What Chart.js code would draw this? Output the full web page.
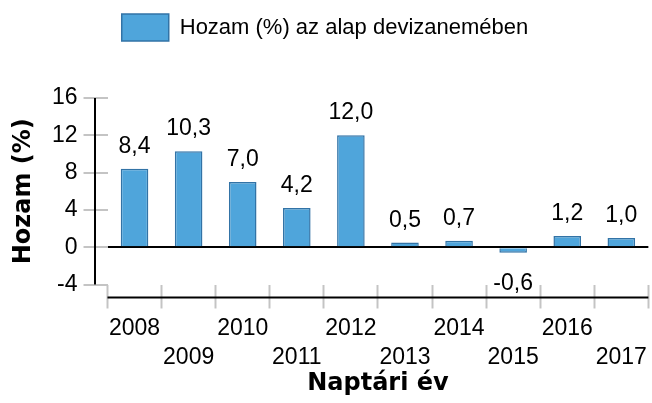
<!DOCTYPE html>
<html>
<head>
<meta charset="utf-8">
<script src="https://cdn.jsdelivr.net/npm/chart.js@4"></script>
<style>
  html, body { margin: 0; padding: 0; background: #fff; }
  #wrap { width: 652px; height: 403px; }
</style>
</head>
<body>
<div id="wrap"><canvas id="chart" width="652" height="403"></canvas></div>
<script>
// chart data
const years = ['2008', '2009', '2010', '2011', '2012', '2013', '2014', '2015', '2016', '2017'];
const returns = [8.4, 10.3, 7.0, 4.2, 12.0, 0.5, 0.7, -0.6, 1.2, 1.0];
const yTicks = [-4, 0, 4, 8, 12, 16];
const seriesLabel = 'Hozam (%) az alap devizanemében';
const yTitle = 'Hozam (%)';
const xTitle = 'Naptári év';

const FONT = '"Liberation Sans", Arial, sans-serif';
const BOLD = '"DejaVu Sans", sans-serif';
const BAR_FILL = '#4fa5db';
const BAR_EDGE = '#3273a6';
const TICK_GREY = '#c4c4c4';
const AXIS_GAP = 13;

const fmt = v => v.toFixed(1).replace('.', ',');

// axis lines sit a little away from the plot area, like the original
const axisLines = {
  id: 'axisLines',
  afterDraw(chart) {
    const { ctx, chartArea: a, scales: { x, y } } = chart;
    ctx.save();
    ctx.strokeStyle = '#000';
    ctx.lineWidth = 2;
    ctx.beginPath();
    ctx.moveTo(a.left - AXIS_GAP + 0.5, y.getPixelForValue(yTicks[yTicks.length - 1]));
    ctx.lineTo(a.left - AXIS_GAP + 0.5, y.getPixelForValue(yTicks[0]));
    ctx.moveTo(x.left, a.bottom + AXIS_GAP);
    ctx.lineTo(x.right, a.bottom + AXIS_GAP);
    ctx.stroke();
    ctx.restore();
  }
};

// value labels above (or below) each bar
const valueLabels = {
  id: 'valueLabels',
  afterDatasetsDraw(chart) {
    const { ctx } = chart;
    const meta = chart.getDatasetMeta(0);
    ctx.save();
    ctx.font = '23px ' + FONT;
    ctx.fillStyle = '#000';
    ctx.textAlign = 'center';
    ctx.textBaseline = 'alphabetic';
    meta.data.forEach((bar, i) => {
      const v = returns[i];
      const yPos = v >= 0 ? bar.y - 16 : bar.y + 37;
      ctx.fillText(fmt(v), bar.x, yPos);
    });
    ctx.restore();
  }
};

new Chart(document.getElementById('chart'), {
  type: 'bar',
  data: {
    labels: years,
    datasets: [{
      label: seriesLabel,
      data: returns,
      backgroundColor: BAR_FILL,
      borderColor: BAR_EDGE,
      borderWidth: 1.5,
      barPercentage: 0.51,
      categoryPercentage: 1
    }]
  },
  options: {
    responsive: false,
    animation: false,
    devicePixelRatio: 1,
    layout: { padding: { top: 0, left: 0, right: 2, bottom: 0 } },
    plugins: {
      legend: {
        position: 'top',
        labels: {
          boxWidth: 47,
          boxHeight: 27,
          padding: 14,
          color: '#000',
          font: { family: FONT, size: 22 }
        }
      },
      // empty spacer under the legend
      subtitle: {
        display: true,
        text: '',
        weight: 500,
        padding: 0,
        font: { size: 47, lineHeight: 1 }
      },
      tooltip: { enabled: false }
    },
    scales: {
      x: {
        grid: {
          display: true,
          drawOnChartArea: false,
          drawTicks: true,
          tickLength: 24,
          tickColor: TICK_GREY,
          tickWidth: 2
        },
        border: { display: false },
        ticks: {
          autoSkip: false,
          maxRotation: 0,
          padding: 5,
          color: '#000',
          font: { family: FONT, size: 23, lineHeight: 1.28 },
          callback: (val, i) => i % 2 === 0 ? [years[i], ''] : ['', years[i]]
        },
        title: {
          display: true,
          text: xTitle,
          color: '#000',
          font: { family: BOLD, size: 24, weight: 'bold', lineHeight: 1.2 },
          padding: { top: 0, bottom: 5 }
        },
        afterFit: s => { s.height = 118.5; }
      },
      y: {
        min: yTicks[0],
        max: yTicks[yTicks.length - 1],
        grid: {
          drawOnChartArea: true,
          drawTicks: true,
          tickLength: 24,
          tickColor: TICK_GREY,
          tickWidth: 2,
          color: c => c.tick && c.tick.value === 0 ? '#000' : 'rgba(0,0,0,0)',
          lineWidth: 2
        },
        border: { display: false },
        ticks: {
          stepSize: 4,
          padding: 6,
          color: '#000',
          font: { family: FONT, size: 23 }
        },
        title: {
          display: true,
          text: yTitle,
          color: '#000',
          font: { family: BOLD, size: 24, weight: 'bold', lineHeight: 1.2 },
          padding: { top: 9, bottom: 0 }
        },
        afterFit: s => { s.width = 107.5; }
      }
    }
  },
  plugins: [axisLines, valueLabels]
});
</script>
</body>
</html>
